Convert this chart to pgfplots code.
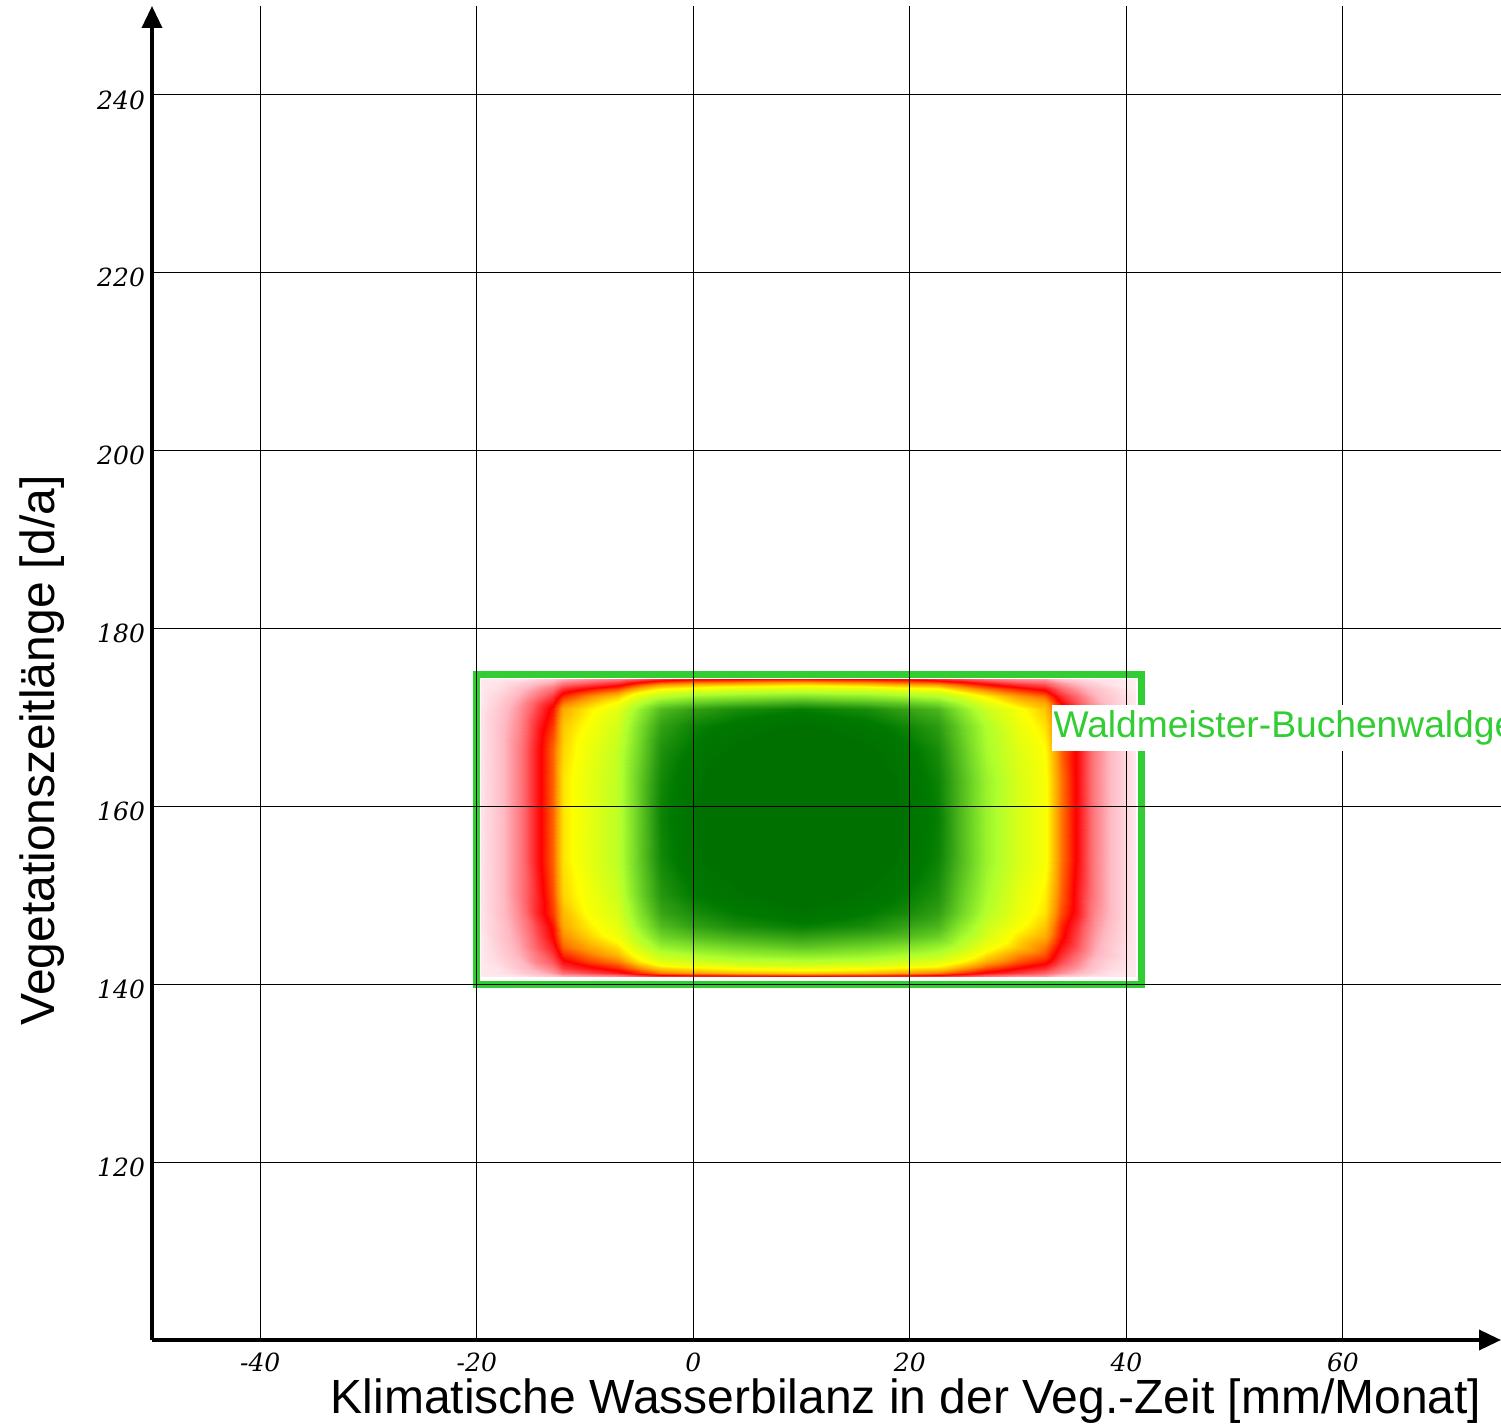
\documentclass[border=0pt]{standalone}
\usepackage{pgfplots}
\pgfplotsset{compat=1.18}
\usepackage{pgfplotstable}
\usetikzlibrary{arrows.meta}
\usepackage{fontspec}
\setmainfont{Liberation Sans}
\newfontfamily\tickfont{DejaVu Serif}
\definecolor{limegr}{RGB}{50,205,50}
\pgfplotsset{colormap={heat}{rgb255(0pt)=(255,238,242) rgb255(10pt)=(255,185,195) rgb255(18pt)=(255,100,105) rgb255(25pt)=(255,0,0) rgb255(32pt)=(255,140,0) rgb255(40pt)=(255,255,0) rgb255(52pt)=(175,255,45) rgb255(60pt)=(120,220,40) rgb255(71pt)=(50,160,20) rgb255(79pt)=(0,122,0) rgb255(85pt)=(0,112,0) rgb255(100pt)=(0,112,0)}}
\pgfplotstableread{
x y v
-19.6 140.9 0.01
-18 140.9 0.01
-16 140.9 0.02
-14.5 140.9 0.05
-13 140.9 0.08
-12 140.9 0.11
-9.5 140.9 0.13
-7 140.9 0.15
-5 140.9 0.19
-3 140.9 0.22
0 140.9 0.23
4 140.9 0.24
10 140.9 0.25
16 140.9 0.24
20 140.9 0.23
22.6 140.9 0.22
24.5 140.9 0.20
27 140.9 0.17
30 140.9 0.14
32.5 140.9 0.13
34 140.9 0.08
35.5 140.9 0.05
37 140.9 0.02
38.5 140.9 0.02
40.8 140.9 0.01

-19.6 141.3 0.01
-18 141.3 0.02
-16 141.3 0.06
-14.5 141.3 0.09
-13 141.3 0.13
-12 141.3 0.17
-9.5 141.3 0.20
-7 141.3 0.23
-5 141.3 0.27
-3 141.3 0.31
0 141.3 0.33
4 141.3 0.35
10 141.3 0.36
16 141.3 0.35
20 141.3 0.33
22.6 141.3 0.31
24.5 141.3 0.28
27 141.3 0.24
30 141.3 0.21
32.5 141.3 0.18
34 141.3 0.14
35.5 141.3 0.10
37 141.3 0.06
38.5 141.3 0.02
40.8 141.3 0.01

-19.6 141.8 0.01
-18 141.8 0.02
-16 141.8 0.08
-14.5 141.8 0.12
-13 141.8 0.16
-12 141.8 0.21
-9.5 141.8 0.24
-7 141.8 0.27
-5 141.8 0.32
-3 141.8 0.37
0 141.8 0.39
4 141.8 0.41
10 141.8 0.43
16 141.8 0.41
20 141.8 0.39
22.6 141.8 0.38
24.5 141.8 0.34
27 141.8 0.29
30 141.8 0.25
32.5 141.8 0.22
34 141.8 0.17
35.5 141.8 0.13
37 141.8 0.08
38.5 141.8 0.04
40.8 141.8 0.01

-19.6 142.5 0.01
-18 142.5 0.04
-16 142.5 0.09
-14.5 142.5 0.15
-13 142.5 0.19
-12 142.5 0.24
-9.5 142.5 0.28
-7 142.5 0.31
-5 142.5 0.38
-3 142.5 0.44
0 142.5 0.46
4 142.5 0.49
10 142.5 0.50
16 142.5 0.49
20 142.5 0.46
22.6 142.5 0.44
24.5 142.5 0.40
27 142.5 0.34
30 142.5 0.29
32.5 142.5 0.26
34 142.5 0.20
35.5 142.5 0.15
37 142.5 0.09
38.5 142.5 0.05
40.8 142.5 0.01

-19.6 143.3 0.01
-18 143.3 0.05
-16 143.3 0.11
-14.5 143.3 0.16
-13 143.3 0.21
-12 143.3 0.27
-9.5 143.3 0.31
-7 143.3 0.35
-5 143.3 0.42
-3 143.3 0.49
0 143.3 0.52
4 143.3 0.55
10 143.3 0.57
16 143.3 0.55
20 143.3 0.52
22.6 143.3 0.50
24.5 143.3 0.45
27 143.3 0.38
30 143.3 0.32
32.5 143.3 0.29
34 143.3 0.22
35.5 143.3 0.17
37 143.3 0.11
38.5 143.3 0.07
40.8 143.3 0.01

-19.6 144.2 0.01
-18 144.2 0.06
-16 144.2 0.12
-14.5 144.2 0.18
-13 144.2 0.23
-12 144.2 0.30
-9.5 144.2 0.34
-7 144.2 0.38
-5 144.2 0.47
-3 144.2 0.55
0 144.2 0.58
4 144.2 0.61
10 144.2 0.64
16 144.2 0.61
20 144.2 0.58
22.6 144.2 0.55
24.5 144.2 0.50
27 144.2 0.42
30 144.2 0.36
32.5 144.2 0.31
34 144.2 0.24
35.5 144.2 0.19
37 144.2 0.12
38.5 144.2 0.07
40.8 144.2 0.01

-19.6 145.3 0.01
-18 145.3 0.07
-16 145.3 0.13
-14.5 145.3 0.19
-13 145.3 0.25
-12 145.3 0.32
-9.5 145.3 0.37
-7 145.3 0.42
-5 145.3 0.51
-3 145.3 0.61
0 145.3 0.65
4 145.3 0.68
10 145.3 0.71
16 145.3 0.68
20 145.3 0.65
22.6 145.3 0.62
24.5 145.3 0.54
27 145.3 0.46
30 145.3 0.38
32.5 145.3 0.34
34 145.3 0.26
35.5 145.3 0.20
37 145.3 0.13
38.5 145.3 0.08
40.8 145.3 0.01

-19.6 146.5 0.02
-18 146.5 0.07
-16 146.5 0.14
-14.5 146.5 0.20
-13 146.5 0.26
-12 146.5 0.34
-9.5 146.5 0.39
-7 146.5 0.44
-5 146.5 0.55
-3 146.5 0.66
0 146.5 0.71
4 146.5 0.75
10 146.5 0.78
16 146.5 0.75
20 146.5 0.70
22.6 146.5 0.67
24.5 146.5 0.58
27 146.5 0.48
30 146.5 0.41
32.5 146.5 0.36
34 146.5 0.27
35.5 146.5 0.21
37 146.5 0.14
38.5 146.5 0.09
40.8 146.5 0.01

-19.6 148 0.02
-18 148 0.08
-16 148 0.15
-14.5 148 0.22
-13 148 0.28
-12 148 0.35
-9.5 148 0.41
-7 148 0.46
-5 148 0.58
-3 148 0.70
0 148 0.75
4 148 0.79
10 148 0.83
16 148 0.79
20 148 0.75
22.6 148 0.71
24.5 148 0.62
27 148 0.51
30 148 0.43
32.5 148 0.38
34 148 0.29
35.5 148 0.23
37 148 0.15
38.5 148 0.10
40.8 148 0.01

-19.6 150 0.02
-18 150 0.08
-16 150 0.16
-14.5 150 0.22
-13 150 0.29
-12 150 0.37
-9.5 150 0.42
-7 150 0.48
-5 150 0.61
-3 150 0.73
0 150 0.79
4 150 0.83
10 150 0.88
16 150 0.83
20 150 0.78
22.6 150 0.74
24.5 150 0.64
27 150 0.53
30 150 0.44
32.5 150 0.39
34 150 0.30
35.5 150 0.23
37 150 0.16
38.5 150 0.10
40.8 150 0.01

-19.6 154 0.02
-18 154 0.08
-16 154 0.16
-14.5 154 0.23
-13 154 0.30
-12 154 0.38
-9.5 154 0.44
-7 154 0.50
-5 154 0.63
-3 154 0.76
0 154 0.83
4 154 0.88
10 154 0.94
16 154 0.88
20 154 0.82
22.6 154 0.77
24.5 154 0.67
27 154 0.55
30 154 0.46
32.5 154 0.41
34 154 0.31
35.5 154 0.24
37 154 0.16
38.5 154 0.10
40.8 154 0.01

-19.6 158.7 0.02
-18 158.7 0.08
-16 158.7 0.16
-14.5 158.7 0.23
-13 158.7 0.30
-12 158.7 0.38
-9.5 158.7 0.44
-7 158.7 0.50
-5 158.7 0.63
-3 158.7 0.77
0 158.7 0.84
4 158.7 0.90
10 158.7 1.00
16 158.7 0.90
20 158.7 0.83
22.6 158.7 0.78
24.5 158.7 0.67
27 158.7 0.55
30 158.7 0.46
32.5 158.7 0.41
34 158.7 0.31
35.5 158.7 0.24
37 158.7 0.16
38.5 158.7 0.10
40.8 158.7 0.01

-19.6 163 0.02
-18 163 0.08
-16 163 0.16
-14.5 163 0.23
-13 163 0.30
-12 163 0.38
-9.5 163 0.44
-7 163 0.50
-5 163 0.63
-3 163 0.76
0 163 0.83
4 163 0.89
10 163 0.94
16 163 0.89
20 163 0.82
22.6 163 0.77
24.5 163 0.67
27 163 0.55
30 163 0.46
32.5 163 0.41
34 163 0.31
35.5 163 0.24
37 163 0.16
38.5 163 0.10
40.8 163 0.01

-19.6 166.5 0.02
-18 166.5 0.08
-16 166.5 0.16
-14.5 166.5 0.23
-13 166.5 0.30
-12 166.5 0.37
-9.5 166.5 0.43
-7 166.5 0.49
-5 166.5 0.61
-3 166.5 0.74
0 166.5 0.80
4 166.5 0.85
10 166.5 0.90
16 166.5 0.85
20 166.5 0.80
22.6 166.5 0.75
24.5 166.5 0.65
27 166.5 0.53
30 166.5 0.45
32.5 166.5 0.40
34 166.5 0.30
35.5 166.5 0.24
37 166.5 0.16
38.5 166.5 0.10
40.8 166.5 0.01

-19.6 169 0.02
-18 169 0.08
-16 169 0.15
-14.5 169 0.22
-13 169 0.28
-12 169 0.36
-9.5 169 0.41
-7 169 0.47
-5 169 0.59
-3 169 0.71
0 169 0.77
4 169 0.81
10 169 0.85
16 169 0.81
20 169 0.76
22.6 169 0.72
24.5 169 0.63
27 169 0.52
30 169 0.43
32.5 169 0.38
34 169 0.29
35.5 169 0.23
37 169 0.15
38.5 169 0.10
40.8 169 0.01

-19.6 171 0.02
-18 171 0.07
-16 171 0.14
-14.5 171 0.20
-13 171 0.26
-12 171 0.34
-9.5 171 0.39
-7 171 0.44
-5 171 0.55
-3 171 0.66
0 171 0.71
4 171 0.75
10 171 0.78
16 171 0.75
20 171 0.70
22.6 171 0.67
24.5 171 0.58
27 171 0.48
30 171 0.41
32.5 171 0.36
34 171 0.27
35.5 171 0.21
37 171 0.14
38.5 171 0.09
40.8 171 0.01

-19.6 171.6 0.01
-18 171.6 0.06
-16 171.6 0.13
-14.5 171.6 0.19
-13 171.6 0.24
-12 171.6 0.31
-9.5 171.6 0.36
-7 171.6 0.41
-5 171.6 0.50
-3 171.6 0.59
0 171.6 0.63
4 171.6 0.66
10 171.6 0.69
16 171.6 0.66
20 171.6 0.63
22.6 171.6 0.60
24.5 171.6 0.53
27 171.6 0.44
30 171.6 0.37
32.5 171.6 0.34
34 171.6 0.25
35.5 171.6 0.19
37 171.6 0.13
38.5 171.6 0.08
40.8 171.6 0.01

-19.6 172.4 0.01
-18 172.4 0.05
-16 172.4 0.11
-14.5 172.4 0.16
-13 172.4 0.21
-12 172.4 0.27
-9.5 172.4 0.32
-7 172.4 0.36
-5 172.4 0.44
-3 172.4 0.50
0 172.4 0.54
4 172.4 0.56
10 172.4 0.58
16 172.4 0.56
20 172.4 0.53
22.6 172.4 0.51
24.5 172.4 0.46
27 172.4 0.39
30 172.4 0.33
32.5 172.4 0.30
34 172.4 0.22
35.5 172.4 0.17
37 172.4 0.11
38.5 172.4 0.07
40.8 172.4 0.01

-19.6 173.2 0.01
-18 173.2 0.03
-16 173.2 0.09
-14.5 173.2 0.13
-13 173.2 0.17
-12 173.2 0.22
-9.5 173.2 0.26
-7 173.2 0.29
-5 173.2 0.35
-3 173.2 0.40
0 173.2 0.42
4 173.2 0.45
10 173.2 0.46
16 173.2 0.45
20 173.2 0.42
22.6 173.2 0.41
24.5 173.2 0.36
27 173.2 0.31
30 173.2 0.27
32.5 173.2 0.24
34 173.2 0.18
35.5 173.2 0.13
37 173.2 0.09
38.5 173.2 0.05
40.8 173.2 0.00

-19.6 173.8 0.01
-18 173.8 0.02
-16 173.8 0.06
-14.5 173.8 0.10
-13 173.8 0.13
-12 173.8 0.17
-9.5 173.8 0.20
-7 173.8 0.23
-5 173.8 0.28
-3 173.8 0.32
0 173.8 0.34
4 173.8 0.35
10 173.8 0.37
16 173.8 0.35
20 173.8 0.33
22.6 173.8 0.32
24.5 173.8 0.29
27 173.8 0.25
30 173.8 0.21
32.5 173.8 0.19
34 173.8 0.14
35.5 173.8 0.10
37 173.8 0.06
38.5 173.8 0.02
40.8 173.8 0.00

-19.6 174.3 0.01
-18 174.3 0.01
-16 174.3 0.02
-14.5 174.3 0.05
-13 174.3 0.08
-12 174.3 0.11
-9.5 174.3 0.14
-7 174.3 0.16
-5 174.3 0.19
-3 174.3 0.22
0 174.3 0.24
4 174.3 0.25
10 174.3 0.26
16 174.3 0.25
20 174.3 0.24
22.6 174.3 0.22
24.5 174.3 0.20
27 174.3 0.17
30 174.3 0.14
32.5 174.3 0.13
34 174.3 0.08
35.5 174.3 0.05
37 174.3 0.02
38.5 174.3 0.02
40.8 174.3 0.00
}\heattable
\begin{document}
\begin{tikzpicture}
\useasboundingbox (-76pt,-43pt) rectangle (674.5pt,670pt);
\begin{axis}[
  scale only axis, width=674.5pt, height=667pt,
  xmin=-50, xmax=74.6, ymin=100, ymax=250,
  axis lines=left, axis on top,
  x axis line style={line width=1.8pt, -{Triangle[length=11pt,width=10pt]}},
  y axis line style={line width=1.8pt, -{Triangle[length=11pt,width=10pt]}},
  xtick={-40,-20,0,20,40,60}, xticklabels={-40,-20,0,20,40,60},
  ytick={120,140,160,180,200,220,240},
  yticklabels={120,140,160,180,200,220,240},
  major tick length=0pt,
  grid=major, major grid style={black, line width=0.55pt},
  ticklabel style={font=\tickfont\itshape\fontsize{12.5}{14}\selectfont},
  xticklabel style={yshift=-3pt},
  yticklabel style={yshift=-2.5pt},
  xlabel={Klimatische Wasserbilanz in der Veg.-Zeit [mm/Monat]},
  ylabel={Vegetationszeitlänge [d/a]},
  label style={font=\fontsize{24}{28}\selectfont},
  xlabel style={at={(axis description cs:0.559,-0.0554)}, anchor=base},
  ylabel style={at={(axis description cs:-0.0726,0.442)}, anchor=base},
  colormap name=heat, point meta min=0, point meta max=1,
]
\addplot[surf, shader=interp, mesh/cols=25, point meta=explicit] table[x=x, y=y, meta=v] {\heattable};
\addplot[limegr, line width=3.5pt, line join=miter] coordinates {(-20,140) (41.4,140) (41.4,174.85) (-20,174.85)} -- cycle;
\coordinate (wl) at (axis cs:33.05,168.8);
\coordinate (csw) at (rel axis cs:0,0);
\coordinate (cne) at (rel axis cs:1,1);
\end{axis}
\begin{scope}
\clip (csw) rectangle (cne);
\node[overlay, fill=white, text=limegr, anchor=west, inner xsep=1pt, inner ysep=3pt, font=\fontsize{18.6}{21}\selectfont] at (wl) {Waldmeister-Buchenwaldgesellschaft};
\end{scope}
\end{tikzpicture}
\end{document}
